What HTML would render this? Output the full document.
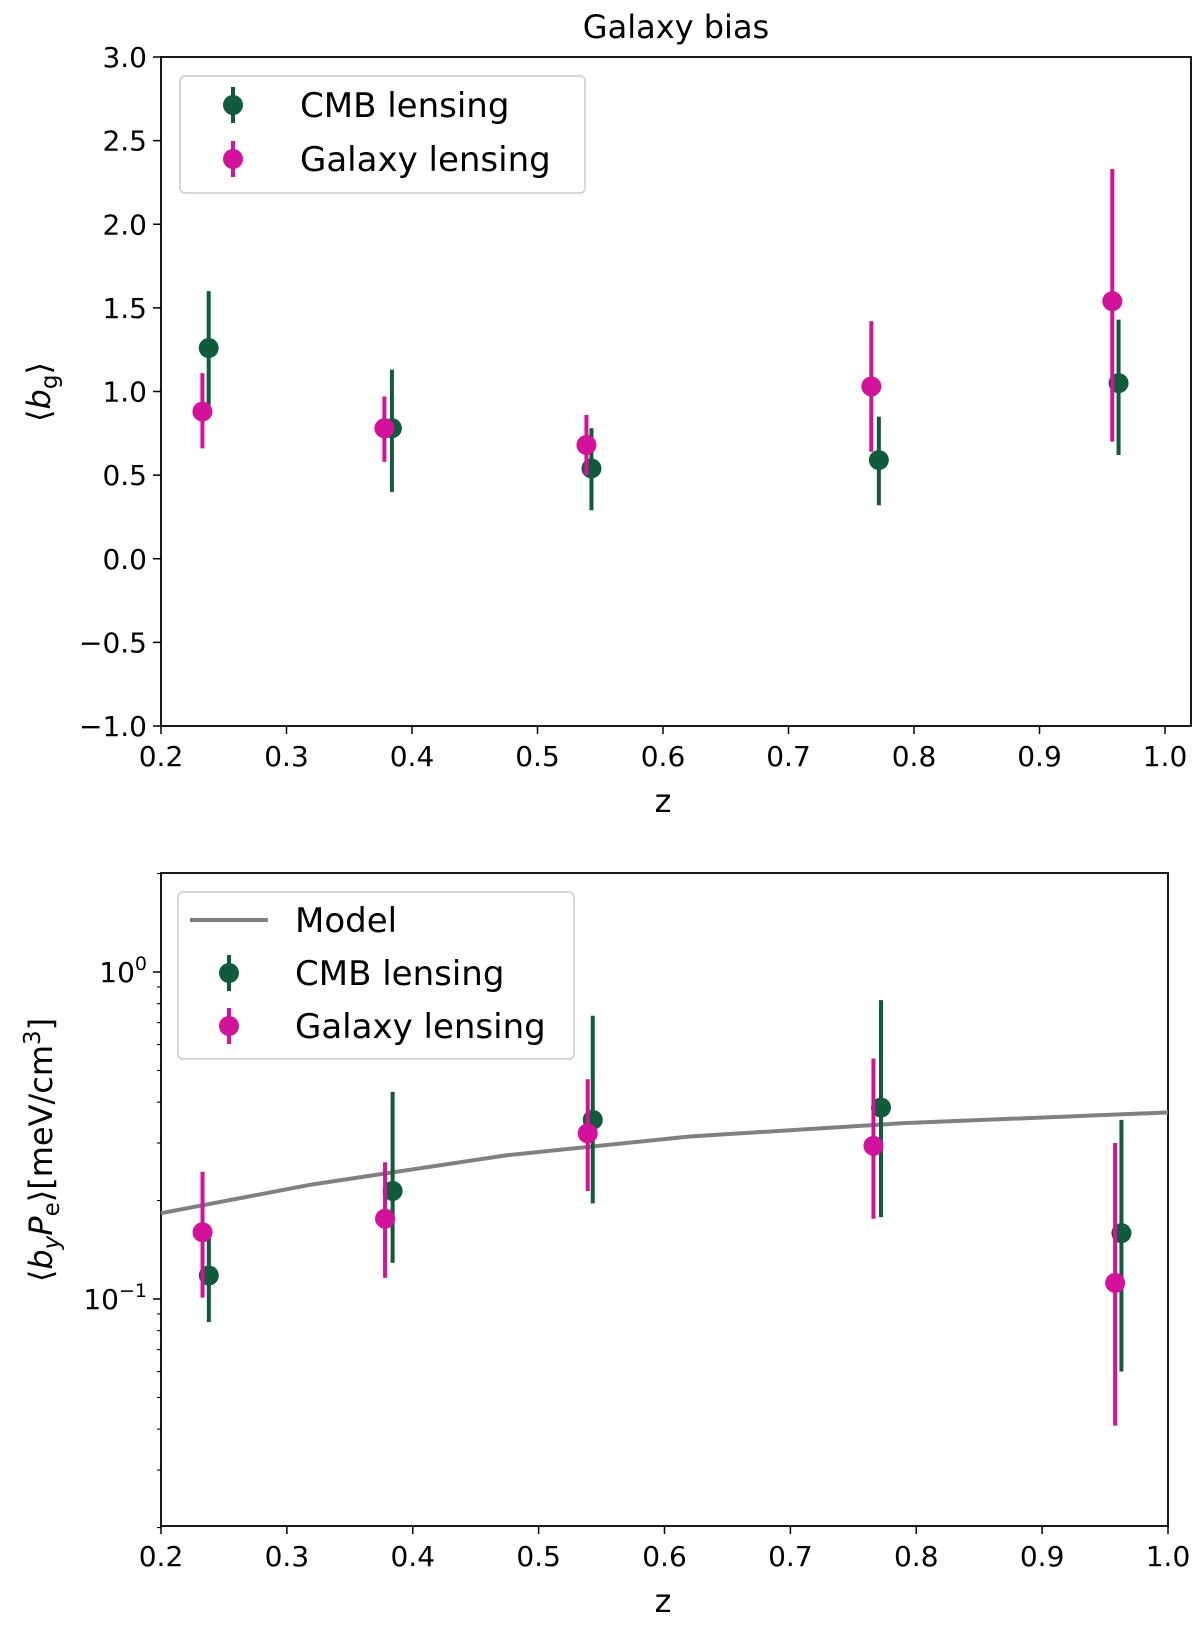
<!DOCTYPE html>
<html><head><meta charset="utf-8"><style>
body{margin:0;background:#fff}
svg{display:block;font-family:"DejaVu Sans","Liberation Sans",sans-serif}
</style></head><body>
<svg id="fig" width="1200" height="1634" viewBox="0 0 1200 1634">
<text x="676" y="38" font-size="32" text-anchor="middle">Galaxy bias</text>
<g id="top"></g>
<g id="bot"></g>
</svg>
<script>
const zCMB1=[0.238,0.384,0.543,0.772,0.963];
const bCMB=[1.26,0.78,0.54,0.59,1.05];
const bCMBlo=[0.92,0.40,0.29,0.32,0.62];
const bCMBhi=[1.60,1.13,0.78,0.85,1.43];
const zGAL1=[0.233,0.378,0.539,0.766,0.958];
const bGAL=[0.88,0.78,0.68,1.03,1.54];
const bGALlo=[0.66,0.58,0.50,0.64,0.70];
const bGALhi=[1.11,0.97,0.86,1.42,2.33];
const pCMB=[0.118,0.214,0.353,0.385,0.159];
const pCMBlo=[0.085,0.129,0.196,0.178,0.060];
const pCMBhi=[0.155,0.43,0.735,0.82,0.353];
const pGAL=[0.160,0.176,0.321,0.294,0.112];
const pGALlo=[0.101,0.116,0.214,0.176,0.041];
const pGALhi=[0.245,0.262,0.47,0.544,0.30];
const zModel=[0.2,0.32,0.474,0.62,0.79,1.0];
const pModel=[0.183,0.224,0.275,0.314,0.345,0.372];
const xTicks=["0.2","0.3","0.4","0.5","0.6","0.7","0.8","0.9","1.0"];
const yTicksTop=["−1.0","−0.5","0.0","0.5","1.0","1.5","2.0","2.5","3.0"];

const NS="http://www.w3.org/2000/svg";
function el(p,t,a){const e=document.createElementNS(NS,t);for(const k in a)e.setAttribute(k,a[k]);p.appendChild(e);return e;}
const GREEN="#0f5b3c",MAG="#d3119a";
const TF=28;

const T=document.getElementById('top');
const tx=z=>161+(z-0.2)/0.8*1004;
const ty=v=>726-(v+1)/4*669;
function axes(g,L,R,Tp,B,xf){
  for(let i=0;i<xTicks.length;i++){const v=parseFloat(xTicks[i]);const x=xf(v);
    const l=el(g,'line',{x1:x,x2:x,y1:B,y2:B+8,stroke:'#000','stroke-width':1.5});
    
    const t=el(g,'text',{x:x,y:B+40,'font-size':TF,'text-anchor':'middle'});t.textContent=xTicks[i];
    }
  const r=el(g,'rect',{x:L,y:Tp,width:R-L,height:B-Tp,fill:'none',stroke:'#000','stroke-width':1.8});
  
  const xl=el(g,'text',{x:(161+1165)/2,y:B+86,'font-size':32,'text-anchor':'middle'});xl.textContent='z';
  
}
function errs(g,xf,yf,zs,v,lo,hi,c,name){
  for(let i=0;i<zs.length;i++){const x=xf(zs[i]);
    const l=el(g,'line',{x1:x,x2:x,y1:yf(lo[i]),y2:yf(hi[i]),stroke:c,'stroke-width':4});
    
    const p=el(g,'circle',{cx:x,cy:yf(v[i]),r:10,fill:c});
    }
}
for(let i=0;i<yTicksTop.length;i++){const v=-1+0.5*i;const y=ty(v);
  const l=el(T,'line',{x1:153,x2:161,y1:y,y2:y,stroke:'#000','stroke-width':1.5});
  
  const t=el(T,'text',{x:147,y:y+10,'font-size':TF,'text-anchor':'end'});t.textContent=yTicksTop[i];
  }
axes(T,161,1191,57,726,tx);
errs(T,tx,ty,zCMB1,bCMB,bCMBlo,bCMBhi,GREEN,'cmb');
errs(T,tx,ty,zGAL1,bGAL,bGALlo,bGALhi,MAG,'galaxy');
const yl1=el(T,'text',{transform:'translate(50,392) rotate(-90)','font-size':32,'text-anchor':'middle'});
yl1.innerHTML='⟨<tspan font-style="italic">b</tspan><tspan font-size="23" dy="7">g</tspan><tspan dy="-7">⟩</tspan>';


const B=document.getElementById('bot');
const bx=z=>161+(z-0.2)/0.8*1007;
const by=v=>972-Math.log10(v)*327;
for(let k=-2;k<=0;k++)for(let m=1;m<=9;m++){const v=m*Math.pow(10,k);if(v<0.02||v>2)continue;const y=by(v);
  const l=el(B,'line',{x1:m===1?153:157,x2:161,y1:y,y2:y,stroke:'#000','stroke-width':m===1?1.5:1.1});
  }
[[0,'0'],[-1,'−1']].forEach(([k,s])=>{const t=el(B,'text',{x:147,y:by(Math.pow(10,k))+10,'font-size':TF,'text-anchor':'end'});
  t.innerHTML='10<tspan font-size="19" dy="-12">'+s+'</tspan>';
  });
axes(B,161,1168,873,1526,bx);
let d='';for(let i=0;i<zModel.length;i++)d+=(i?'L':'M')+bx(zModel[i])+' '+by(pModel[i]);
const ml=el(B,'path',{d:d,fill:'none',stroke:'#808080','stroke-width':4});

errs(B,bx,by,zCMB1,pCMB,pCMBlo,pCMBhi,GREEN,'cmb');
errs(B,bx,by,zGAL1,pGAL,pGALlo,pGALhi,MAG,'galaxy');
const yl2=el(B,'text',{transform:'translate(52,1150) rotate(-90)','font-size':32,'text-anchor':'middle'});
yl2.innerHTML='⟨<tspan font-style="italic">b</tspan><tspan font-size="23" font-style="italic" dy="7">y</tspan><tspan font-style="italic" dy="-7">P</tspan><tspan font-size="23" dy="7">e</tspan><tspan dy="-7">⟩[meV/cm</tspan><tspan font-size="23" dy="-12">3</tspan><tspan dy="12">]</tspan>';


function legend(g,x,y,w,h,entries){
  const r=el(g,'rect',{x:x,y:y,width:w,height:h,rx:5,fill:'#fff','fill-opacity':0.85,stroke:'#ccc','stroke-width':1.5});
  
  entries.forEach(e=>{
    const gg=el(g,'g',{});
    if(e.line){el(gg,'line',{x1:e.mx-39,x2:e.mx+39,y1:e.y,y2:e.y,stroke:e.c,'stroke-width':4});}
    else{el(gg,'line',{x1:e.mx,x2:e.mx,y1:e.y-18,y2:e.y+18,stroke:e.c,'stroke-width':4});el(gg,'circle',{cx:e.mx,cy:e.y,r:10,fill:e.c});}
    const t=el(gg,'text',{x:e.tx,y:e.y+12,'font-size':34});t.textContent=e.t;
  });
}
legend(T,180,76,405,117,[{mx:233,y:105,tx:300,c:GREEN,t:'CMB lensing'},{mx:233,y:159,tx:300,c:MAG,t:'Galaxy lensing'}]);
legend(B,178,892,396,167,[{mx:229,y:920,tx:295,c:'#808080',t:'Model',line:1},{mx:229,y:973,tx:295,c:GREEN,t:'CMB lensing'},{mx:229,y:1026,tx:295,c:MAG,t:'Galaxy lensing'}]);
</script>
</body></html>
